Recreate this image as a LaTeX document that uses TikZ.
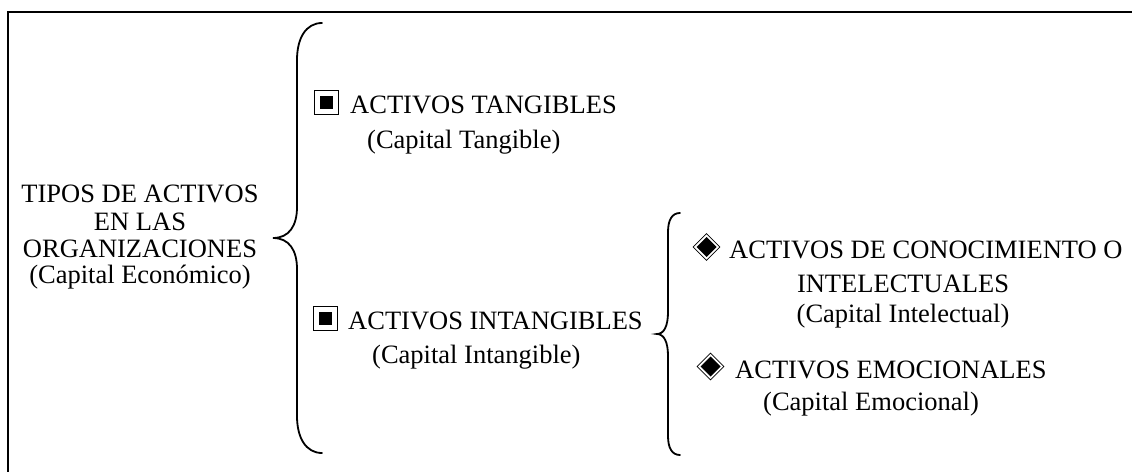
\documentclass[tikz,border=0pt]{standalone}
\usepackage{fontspec}
\setmainfont{Liberation Serif}
\usetikzlibrary{shapes.geometric}
\begin{document}
\begin{tikzpicture}[x=1pt,y=-1pt,
  txt/.style={inner sep=0pt, font=\fontsize{26.5}{30}\selectfont},
  brace/.style={line width=1.8pt, line cap=round},
  frame/.style={line width=2.2pt},
  sqbullet/.style={draw, line width=0.8pt, minimum size=24pt, inner sep=0pt,
    path picture={\fill (path picture bounding box.center) +(-6.5,-6.5) rectangle +(6.5,6.5);}},
  dmbullet/.style={diamond, draw, line width=0.8pt, minimum width=27pt, minimum height=27pt, inner sep=0pt,
    path picture={\fill (path picture bounding box.center) +(0,-10) -- +(10,0) -- +(0,10) -- +(-10,0) -- cycle;}}
]
\useasboundingbox (0,0) rectangle (1132,471);
\clip (0,0) rectangle (1132,471);

% open frame: top and left edges
\draw[frame] (8,480) -- (8,12) -- (1140,12);

% root item
\node[txt, anchor=base] (root1) at (140,202) {TIPOS DE ACTIVOS};
\node[txt, anchor=base] (root2) at (140,230) {EN LAS};
\node[txt, anchor=base] (root3) at (140,257) {ORGANIZACIONES};
\node[txt, anchor=base] (root4) at (140,283) {(Capital Económico)};

% main brace
\coordinate (b1top) at (322,23);
\coordinate (b1tip) at (273,238);
\coordinate (b1bot) at (322,453);
\draw[brace] (b1top) .. controls (306,23) and (297,38) .. (297,60)
  -- (297,207) .. controls (297,226) and (289,238) .. (b1tip)
  .. controls (289,238) and (297,250) .. (297,269)
  -- (297,416) .. controls (297,438) and (306,453) .. (b1bot);

% tangible assets
\node[sqbullet] (sq1) at (326,102) {};
\node[txt, anchor=base west] (tan1) at (350,113) {ACTIVOS TANGIBLES};
\node[txt, anchor=base west] (tan2) at (367,148) {(Capital Tangible)};

% intangible assets
\node[sqbullet] (sq2) at (325,318.5) {};
\node[txt, anchor=base west] (int1) at (348,329) {ACTIVOS INTANGIBLES};
\node[txt, anchor=base west] (int2) at (372,363) {(Capital Intangible)};

% second brace
\coordinate (b2top) at (680,213);
\coordinate (b2tip) at (657,334);
\coordinate (b2bot) at (680,455);
\draw[brace] (b2top) .. controls (672,213) and (668,220) .. (668,232)
  -- (668,312) .. controls (668,326) and (664,334) .. (b2tip)
  .. controls (664,334) and (668,342) .. (668,356)
  -- (668,436) .. controls (668,448) and (672,455) .. (b2bot);

% knowledge assets
\node[dmbullet] (dm1) at (706.5,247) {};
\node[txt, anchor=base west] (kn1) at (729,258) {ACTIVOS DE CONOCIMIENTO O};
\node[txt, anchor=base] (kn2) at (903,292) {INTELECTUALES};
\node[txt, anchor=base] (kn3) at (903,322) {(Capital Intelectual)};

% emotional assets
\node[dmbullet] (dm2) at (710.5,366.5) {};
\node[txt, anchor=base west] (em1) at (735,378) {ACTIVOS EMOCIONALES};
\node[txt, anchor=base west] (em2) at (763,410) {(Capital Emocional)};
\end{tikzpicture}
\end{document}
